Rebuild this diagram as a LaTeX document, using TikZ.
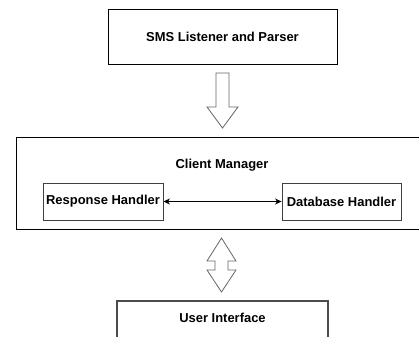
\documentclass[tikz,border=0pt]{standalone}
\usepackage{fontspec}
\setmainfont{Liberation Sans}
\usetikzlibrary{arrows.meta}
\begin{document}
\begin{tikzpicture}[x=1bp,y=-1bp,
  lbl/.style={font=\fontsize{13}{15}\selectfont\bfseries, inner sep=0pt},
  box/.style={draw=black, line width=0.9bp, inner sep=0pt, minimum width=#1},
  blockarrow/.style={draw=black!60, line width=0.8bp, fill=white, line join=miter}]
\useasboundingbox (0,0) rectangle (419,337);
\fill[white] (0,0) rectangle (419,337);
% top box
\node[box=229bp, minimum height=55bp] (sms) at (222.5,36.5) {};
\node[lbl] (smst) at (sms.center) {SMS Listener and Parser};
% container
\draw[line width=0.9bp] (420,137) -- (16,137) -- (16,229) -- (420,229);
\node[lbl] (cm) at (222,165) {Client Manager};
\node[box=120bp, minimum height=37bp, draw=black!75] (resp) at (103,201.5) {};
\node[lbl] at (resp.center) {Response Handler};
\node[box=119bp, minimum height=37bp, draw=black!75] (db) at (341.5,201.5) {};
\node[lbl] at (db.center) {Database Handler};
\draw[{Stealth[length=6.5bp,width=6bp,inset=2bp]}-{Stealth[length=6.5bp,width=6bp,inset=2bp]}, line width=0.9bp] (resp.east) -- (db.west);
% user interface
\draw[line width=1.1bp, draw=black!70] (117,340) -- (117,301) -- (328,301) -- (328,340);
\node[lbl] (ui) at (222.5,318) {User Interface};
% down block arrow
\draw[blockarrow] (216,73) -- (229,73) -- (229,107) -- (238,107) -- (222.5,128) -- (207,107) -- (216,107) -- cycle;
% double block arrow
\draw[blockarrow] (221.5,238) -- (236,261) -- (228,261) -- (228,270) -- (236,270) -- (221.5,292) -- (207,270) -- (215,270) -- (215,261) -- (207,261) -- cycle;
\end{tikzpicture}
\end{document}
